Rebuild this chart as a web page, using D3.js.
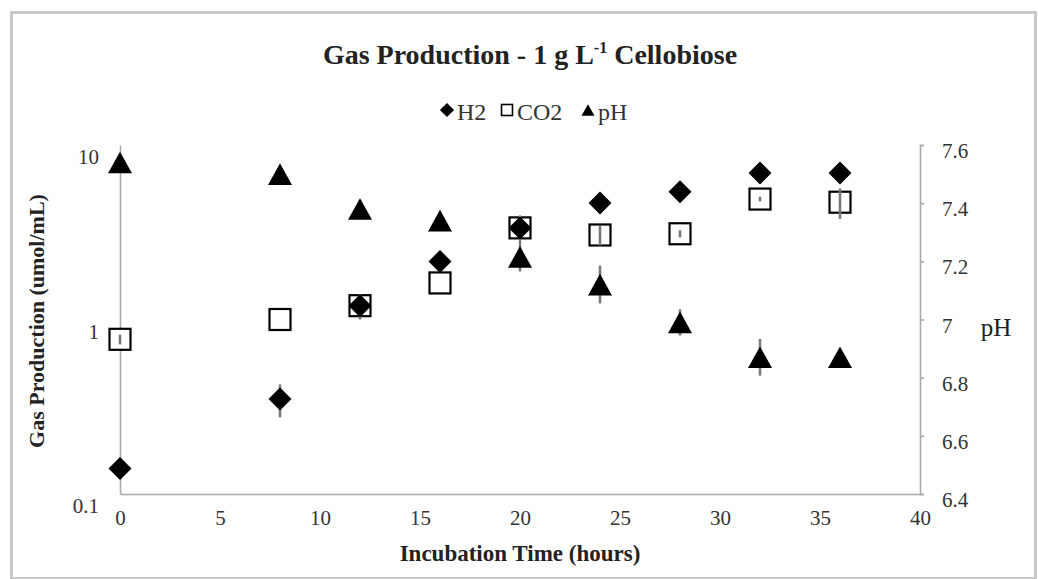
<!DOCTYPE html>
<html>
<head>
<meta charset="utf-8">
<script src="https://cdn.jsdelivr.net/npm/d3@7"></script>
<style>
  body { margin: 0; background: #fff; }
  text { font-family: "Liberation Serif", "Times New Roman", serif; }
</style>
</head>
<body>
<svg id="chart" width="1038" height="579"></svg>
<script>
// values
var hours   = [0, 8, 12, 16, 20, 24, 28, 32, 36];
var h2      = [0.14, 0.35, 1.2, 2.15, 3.35, 4.65, 5.4, 6.9, 6.9];
var h2_err  = [0.01, 0.075, 0.2, 0.1, 0.6, 0.6, 0.3, 0.3, 0.3];
var co2     = [0.77, 1.0, 1.2, 1.62, 3.35, 3.05, 3.1, 4.9, 4.7];
var co2_err = [0.05, 0, 0.1, 0, 0.2, 0.4, 0.15, 0.15, 0.93];
var ph      = [7.54, 7.5, 7.38, 7.34, 7.215, 7.12, 6.99, 6.87, 6.87];
var ph_err  = [0, 0, 0, 0, 0.05, 0.065, 0.045, 0.063, 0];

var x_ticks   = [0, 5, 10, 15, 20, 25, 30, 35, 40];
var gas_ticks = [0.1, 1, 10];
var ph_ticks  = [6.4, 6.6, 6.8, 7, 7.2, 7.4, 7.6];

var svg = d3.select("#chart");
var plotLeft = 120, plotRight = 920, plotTop = 145, plotBottom = 494;
var axisGrey = "#a9a9a9";

// frame round the chart
svg.append("rect")
  .attr("x", 11.5).attr("y", 12.5)
  .attr("width", 1024).attr("height", 566)
  .attr("fill", "none")
  .attr("stroke", "#c9c9c9")
  .attr("stroke-width", 3);

var x = d3.scaleLinear().domain([0, 40]).range([plotLeft, plotRight]);
var yGas = d3.scaleLog().domain([0.1, 10]).range([plotBottom, plotTop]);
var yPh = d3.scaleLinear().domain([6.4, 7.6]).range([plotBottom, plotTop]);

// axes
var gx = svg.append("g")
  .attr("transform", "translate(0," + plotBottom + ")")
  .call(d3.axisBottom(x).tickValues(x_ticks).tickSize(0).tickPadding(22));
var gl = svg.append("g")
  .attr("transform", "translate(" + plotLeft + ",0)")
  .call(d3.axisLeft(yGas).tickValues(gas_ticks).tickFormat(d3.format("")).tickSize(0).tickSizeOuter(0).tickPadding(21));
var gr = svg.append("g")
  .attr("transform", "translate(" + plotRight + ",0)")
  .call(d3.axisRight(yPh).tickValues(ph_ticks).tickFormat(d3.format("")).tickSize(4).tickPadding(18));

[gx, gl, gr].forEach(function(g) {
  g.select(".domain").attr("stroke", axisGrey).attr("stroke-width", 1.6);
  g.selectAll(".tick line").attr("stroke", axisGrey).attr("stroke-width", 1.6);
  g.selectAll(".tick text")
    .attr("fill", "#333")
    .style("font-size", "21px")
    .style("font-family", "Liberation Serif, serif");
});
gx.selectAll(".tick text").attr("dy", "0.45em");
gl.selectAll(".tick text").attr("dy", "0.9em");
gr.selectAll(".tick text").attr("dy", "0.6em");

// titles
var title = svg.append("text")
  .attr("x", 530).attr("y", 64)
  .attr("text-anchor", "middle")
  .style("font-size", "28px")
  .style("font-weight", "bold")
  .attr("fill", "#222");
title.append("tspan").text("Gas Production - 1 g L");
title.append("tspan").attr("dy", -11).style("font-size", "16px").text("-1");
title.append("tspan").attr("dy", 11).text(" Cellobiose");

svg.append("text")
  .attr("x", 520).attr("y", 561)
  .attr("text-anchor", "middle")
  .style("font-size", "23px")
  .style("font-weight", "bold")
  .attr("fill", "#222")
  .text("Incubation Time (hours)");

svg.append("text")
  .attr("transform", "translate(44,321) rotate(-90)")
  .attr("text-anchor", "middle")
  .style("font-size", "22px")
  .style("font-weight", "bold")
  .attr("fill", "#222")
  .text("Gas Production (umol/mL)");

svg.append("text")
  .attr("x", 996).attr("y", 336)
  .attr("text-anchor", "middle")
  .style("font-size", "25px")
  .attr("fill", "#222")
  .text("pH");

// marker shapes, centred on their bounding box
var diamond = {draw: function(p, size) {
  var r = Math.sqrt(size) / 2;
  p.moveTo(0, -r); p.lineTo(r, 0); p.lineTo(0, r); p.lineTo(-r, 0); p.closePath();
}};
var triangle = {draw: function(p, size) {
  var w = Math.sqrt(size), h = w * 0.9;
  p.moveTo(0, -h / 2); p.lineTo(w / 2, h / 2); p.lineTo(-w / 2, h / 2); p.closePath();
}};

function errorBars(vals, errs, y) {
  var idx = d3.range(hours.length).filter(function(i) { return errs[i] > 0; });
  svg.append("g")
    .selectAll("line")
    .data(idx)
    .enter()
    .append("line")
      .attr("x1", function(i) { return x(hours[i]); })
      .attr("x2", function(i) { return x(hours[i]); })
      .attr("y1", function(i) { return y(vals[i] - errs[i]); })
      .attr("y2", function(i) { return y(vals[i] + errs[i]); })
      .attr("stroke", "#777")
      .attr("stroke-width", 2.5);
}

// CO2 squares, error bars show on top of the white fill
svg.append("g")
  .selectAll("rect")
  .data(hours)
  .enter()
  .append("rect")
    .attr("x", function(d) { return x(d) - 10.5; })
    .attr("y", function(d, i) { return yGas(co2[i]) - 10.5; })
    .attr("width", 21).attr("height", 21)
    .attr("fill", "#fff")
    .attr("stroke", "#000")
    .attr("stroke-width", 2.2);
errorBars(co2, co2_err, yGas);

// H2 diamonds (bars behind)
errorBars(h2, h2_err, yGas);
svg.append("g")
  .selectAll("path")
  .data(hours)
  .enter()
  .append("path")
    .attr("d", d3.symbol().type(diamond).size(23 * 23))
    .attr("transform", function(d, i) { return "translate(" + x(d) + "," + yGas(h2[i]) + ")"; })
    .attr("fill", "#000");

// pH triangles (bars behind)
errorBars(ph, ph_err, yPh);
svg.append("g")
  .selectAll("path")
  .data(hours)
  .enter()
  .append("path")
    .attr("d", d3.symbol().type(triangle).size(24 * 24))
    .attr("transform", function(d, i) { return "translate(" + x(d) + "," + yPh(ph[i]) + ")"; })
    .attr("fill", "#000");

// legend
var legend = [
  {name: "H2", x: 447, type: "diamond"},
  {name: "CO2", x: 507, type: "square"},
  {name: "pH", x: 588, type: "triangle"}
];
var lg = svg.append("g").attr("transform", "translate(0,110)");
legend.forEach(function(l) {
  if (l.type === "square") {
    lg.append("rect").attr("x", l.x - 5.5).attr("y", -5.5).attr("width", 11).attr("height", 11)
      .attr("fill", "#fff").attr("stroke", "#000").attr("stroke-width", 1.6);
  } else {
    lg.append("path")
      .attr("d", d3.symbol().type(l.type === "diamond" ? diamond : triangle).size(l.type === "diamond" ? 200 : 170))
      .attr("transform", "translate(" + l.x + ",0)")
      .attr("fill", "#000");
  }
  lg.append("text")
    .attr("x", l.x + 10).attr("y", 10)
    .style("font-size", "24px")
    .attr("fill", "#333")
    .text(l.name);
});
</script>
</body>
</html>
